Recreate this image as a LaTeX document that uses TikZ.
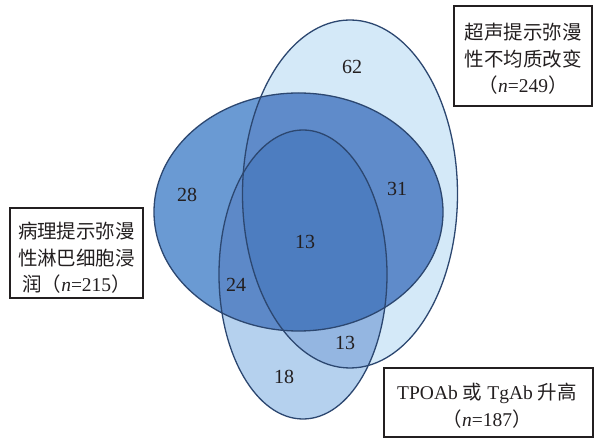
\documentclass[tikz,border=0pt]{standalone}
\usepackage{fontspec}
\setmainfont{Liberation Serif}
\newfontfamily\cjk{Noto Sans CJK SC}
\definecolor{cA}{HTML}{D4E9F8}
\definecolor{cC}{HTML}{B5D1EE}
\definecolor{cB}{HTML}{6A9AD3}
\definecolor{cAC}{HTML}{94B6E1}
\definecolor{cAB}{HTML}{5F8BCA}
\definecolor{cBC}{HTML}{5D89C8}
\definecolor{cABC}{HTML}{4D7DC0}
\definecolor{edge}{HTML}{2C4770}
\definecolor{ink}{HTML}{231F20}
\begin{document}
\begin{tikzpicture}[x=1pt,y=-1pt,
  outline/.style={draw=edge,line width=1.3pt},
  num/.style={text=ink,font=\fontsize{20}{20}\selectfont,inner sep=0pt},
  frame/.style={draw=ink,line width=1.1pt,inner sep=0pt},
  labeltext/.style={text=ink,align=center,inner sep=0pt,
    font=\fontsize{19.5}{26.5}\selectfont}]
\useasboundingbox (0,0) rectangle (595,438);
% base fills
\fill[cA] (350,194) ellipse [x radius=107.5pt, y radius=174pt];
\fill[cC] (303,274.5) ellipse [x radius=84pt, y radius=144.5pt];
\fill[cB] (298.5,212) ellipse [x radius=144.5pt, y radius=119pt];
% A and C
\begin{scope}
\clip (350,194) ellipse [x radius=107.5pt, y radius=174pt];
\fill[cAC] (303,274.5) ellipse [x radius=84pt, y radius=144.5pt];
\end{scope}
% A and B
\begin{scope}
\clip (350,194) ellipse [x radius=107.5pt, y radius=174pt];
\fill[cAB] (298.5,212) ellipse [x radius=144.5pt, y radius=119pt];
\end{scope}
% B and C
\begin{scope}
\clip (298.5,212) ellipse [x radius=144.5pt, y radius=119pt];
\fill[cBC] (303,274.5) ellipse [x radius=84pt, y radius=144.5pt];
\end{scope}
% A, B and C
\begin{scope}
\clip (350,194) ellipse [x radius=107.5pt, y radius=174pt];
\clip (298.5,212) ellipse [x radius=144.5pt, y radius=119pt];
\fill[cABC] (303,274.5) ellipse [x radius=84pt, y radius=144.5pt];
\end{scope}
% outlines
\draw[outline] (350,194) ellipse [x radius=107.5pt, y radius=174pt];
\draw[outline] (298.5,212) ellipse [x radius=144.5pt, y radius=119pt];
\draw[outline] (303,274.5) ellipse [x radius=84pt, y radius=144.5pt];
% numbers
\node[num] (n62) at (352,67) {62};
\node[num] (n28) at (187,195) {28};
\node[num] (n31) at (397,189) {31};
\node[num] (n13c) at (305,242) {13};
\node[num] (n24) at (236,285) {24};
\node[num] (n13b) at (345,343) {13};
\node[num] (n18) at (284,377) {18};
% label frames
\node[frame,minimum width=138pt,minimum height=100pt] (box1) at (523,56) {};
\node[frame,minimum width=133pt,minimum height=90pt] (box2) at (76.5,253) {};
\node[frame,minimum width=209pt,minimum height=69pt] (box3) at (488.5,402.5) {};
% label texts
\node[labeltext] (lab1) at (523,59)
  {{\cjk 超声提示弥漫}\\{\cjk 性不均质改变}\\{\cjk （}\textit{n}=249{\cjk ）}};
\node[labeltext] (lab2) at (76.5,258)
  {{\cjk 病理提示弥漫}\\{\cjk 性淋巴细胞浸}\\{\cjk 润（}\textit{n}=215{\cjk ）}};
\node[labeltext] (lab3) at (487,406)
  {TPOAb\hspace{5pt}{\cjk 或}\hspace{5pt}TgAb\hspace{5pt}{\cjk 升高}\\[0.5pt]{\cjk （}\textit{n}=187{\cjk ）}};
\end{tikzpicture}
\end{document}
